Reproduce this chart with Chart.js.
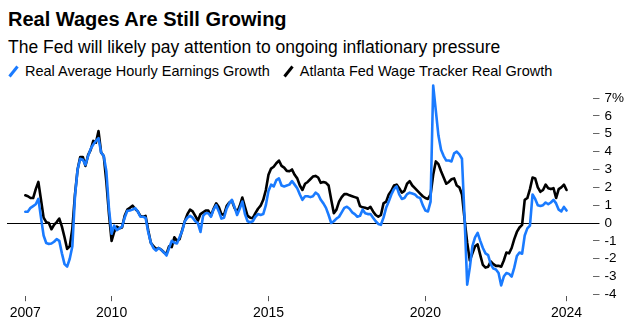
<!DOCTYPE html>
<html>
<head>
<meta charset="utf-8">
<script src="https://cdn.jsdelivr.net/npm/chart.js@4.4.1/dist/chart.umd.min.js"></script>
<style>
  body { margin: 0; width: 643px; height: 327px; background: #fff; position: relative; overflow: hidden;
         font-family: "Liberation Sans", Arial, sans-serif; color: #000; }
  #title { position: absolute; left: 8px; top: 8px; font-size: 20px; font-weight: bold; white-space: nowrap; }
  #subtitle { position: absolute; left: 8px; top: 37px; font-size: 17.5px; white-space: nowrap; }
  #legend { position: absolute; left: 8px; top: 63px; font-size: 14.5px; white-space: nowrap; display: flex; align-items: center; }
  #legend svg { margin-right: 6px; }
  #legend span.item { display: flex; align-items: center; margin-right: 13px; }
  #chart { position: absolute; left: 0; top: 0; }
</style>
</head>
<body>
<div id="title">Real Wages Are Still Growing</div>
<div id="subtitle">The Fed will likely pay attention to ongoing inflationary pressure</div>
<div id="legend">
  <span class="item"><svg width="11" height="13"><line x1="1.5" y1="11.5" x2="9.5" y2="1.5" stroke="#1a7bff" stroke-width="3"/></svg>Real Average Hourly Earnings Growth</span>
  <span class="item"><svg width="11" height="13"><line x1="1.5" y1="11.5" x2="9.5" y2="1.5" stroke="#000" stroke-width="3"/></svg>Atlanta Fed Wage Tracker Real Growth</span>
</div>
<canvas id="chart" width="643" height="327"></canvas>
<script>
// --- DATA: monthly readings, first value is April 2007 ---
const seriesNames = ['Real Average Hourly Earnings Growth', 'Atlanta Fed Wage Tracker Real Growth'];

const earningsGrowth = [
  0.63, 0.64, 0.85, 0.95, 1.05, 1.35, 0.3, -0.7, -1.12,             // 2007
  -1.17, -1.15, -1.05, -0.9, -1.0, -1.7, -2.3, -2.44, -2.0, -1.3, 1.5, 3.0,   // 2008
  3.6, 3.55, 3.25, 3.75, 4.15, 4.4, 4.6, 4.75, 3.95, 3.75, 2.9, 0.8,  // 2009
  -0.6, -0.15, -0.4, -0.3, -0.2, 0.3, 0.68, 0.7, 0.75, 0.84, 0.65, 0.35, // 2010
  0.35, 0.3, -0.5, -1.1, -1.4, -1.55, -1.4, -1.5, -1.65, -1.82, -1.4, -1.0, // 2011
  -1.1, -1.15, -0.8, -0.45, 0.1, 0.3, 0.4, 0.3, 0.1, 0.0, -0.5, 0.4,  // 2012
  0.55, 0.55, 0.35, 0.75, 1.0, 0.65, 0.25, 0.3, 0.8, 1.1, 1.3, 0.9,   // 2013
  0.45, 0.8, 1.2, 0.5, 0.1, 0.04, 0.1, 0.35, 0.5, 0.45, 0.5, 1.0,     // 2014
  1.8, 2.15, 2.05, 2.4, 2.5, 2.1, 2.05, 2.1, 2.15, 2.35, 2.15, 1.95,  // 2015
  1.6, 1.3, 1.5, 1.5, 1.45, 1.5, 1.7, 1.6, 1.3, 1.1, 0.85, 0.45,      // 2016
  0.0, 0.1, 0.25, 0.35, 0.6, 0.85, 0.91, 0.8, 0.6, 0.5, 0.35, 0.4,    // 2017
  0.75, 0.55, 0.5, 0.5, 0.3, 0.1, -0.05, -0.1, 0.3, 0.85, 1.2, 1.6,   // 2018
  1.9, 2.05, 1.6, 1.35, 1.4, 1.62, 1.7, 1.65, 1.6, 1.45, 1.4, 1.0,    // 2019
  0.7, 0.65, 1.2, 7.7, 6.3, 4.9, 4.1, 3.75, 3.5, 3.5, 3.45, 3.9,      // 2020
  4.0, 3.85, 3.6, 0.3, -3.45, -2.5, -1.3, -0.8, -0.55, -1.0, -1.4, -1.7, // 2021
  -1.8, -2.3, -2.55, -2.6, -2.8, -3.5, -3.0, -2.8, -2.85, -3.0, -2.5, -1.85, // 2022
  -1.65, -1.72, -0.7, -0.3, -0.15, 1.6, 1.35, 1.0, 0.95, 1.0, 1.15, 1.05, // 2023
  1.15, 1.3, 1.1, 0.75, 0.65, 0.9, 0.7                                // 2024
];

const wageTrackerGrowth = [
  1.55, 1.5, 1.4, 1.4, 1.9, 2.3, 1.3, 0.3, 0.05,
  0.0, -0.35, -0.1, 0.05, 0.25, -0.2, -0.8, -1.45, -1.3, -0.3, 1.6, 3.0,
  3.7, 3.7, 3.2, 3.8, 4.1, 4.6, 4.5, 5.15, 3.95, 3.75, 2.3, 0.5,
  -1.0, -0.5, -0.2, -0.3, -0.25, 0.4, 0.75, 0.85, 0.97, 0.8, 0.65, 0.4,
  0.35, 0.4, -0.4, -1.1, -1.3, -1.45, -1.4, -1.5, -1.64, -1.73, -1.3, -1.35,
  -0.8, -1.0, -0.9, -0.4, 0.1, 0.5, 0.75, 0.65, 0.4, 0.13, 0.5, 0.6,
  0.7, 0.7, 0.4, 0.8, 1.1, 0.9, 0.5, 0.45, 0.95, 1.15, 1.25, 0.85,
  0.6, 0.95, 1.43, 0.9, 0.4, 0.3, 0.27, 0.55, 0.8, 0.97, 1.3, 1.85,
  2.7, 3.05, 3.15, 3.35, 3.5, 3.2, 3.1, 2.92, 2.9, 3.0, 2.7, 2.5,
  2.1, 1.85, 2.2, 2.3, 2.45, 2.6, 2.64, 2.55, 2.25, 2.3, 2.25, 2.1,
  1.3, 0.55, 0.75, 1.2, 1.45, 1.62, 1.62, 1.55, 1.5, 1.45, 1.4, 0.95,
  0.88, 0.85, 0.8, 0.91, 0.65, 0.45, 0.35, 0.45, 1.1, 1.2, 1.6, 1.8,
  2.1, 2.15, 1.95, 1.7, 1.8, 2.2, 2.35, 2.1, 1.95, 1.8, 1.65, 1.5,
  1.4, 1.35, 1.6, 2.7, 3.45, 3.3, 2.9, 2.55, 2.2, 2.3, 2.45, 2.5,
  2.1, 2.0, 1.6, 0.2, -1.1, -2.1, -1.7, -1.3, -1.2, -1.8, -2.35, -2.5,
  -2.45, -2.15, -2.3, -2.4, -2.4, -2.45, -2.1, -1.65, -1.7, -1.4, -0.9, -0.5,
  -0.25, -0.1, 1.3, 1.4, 1.9, 2.55, 2.5, 2.0, 1.75, 1.85, 2.15, 1.95,
  1.9, 1.95, 1.4, 1.9, 2.0, 2.15, 1.85
];

// x positions are month offsets from April 2007
const yearTickMonths = [0, 33, 93, 153, 207];
const yearTickLabels = ['2007', '2010', '2015', '2020', '2024'];
const valueTicks = [-4, -3, -2, -1, 0, 1, 2, 3, 4, 5, 6, 7];

function toPoints(values) {
  return values.map((v, i) => ({ x: i, y: v }));
}

const ctx = document.getElementById('chart').getContext('2d');

new Chart(ctx, {
  type: 'line',
  data: {
    datasets: [
      {
        label: seriesNames[0],
        data: toPoints(earningsGrowth),
        borderColor: '#1a7bff',
        borderWidth: 2.6
      },
      {
        label: seriesNames[1],
        data: toPoints(wageTrackerGrowth),
        borderColor: '#000000',
        borderWidth: 2.6
      }
    ]
  },
  options: {
    responsive: false,
    animation: false,
    devicePixelRatio: 1,
    layout: { padding: { left: 7, right: 14, top: 82, bottom: 1 } },
    elements: {
      point: { radius: 0 },
      line: { tension: 0, borderJoinStyle: 'round', borderCapStyle: 'round' }
    },
    plugins: {
      legend: { display: false },
      tooltip: { enabled: false }
    },
    scales: {
      x: {
        type: 'linear',
        min: -7,
        max: 217.3,
        border: { display: false },
        grid: { drawOnChartArea: false, drawTicks: true, tickLength: 5, color: '#555' },
        afterBuildTicks: (axis) => {
          axis.ticks = yearTickMonths.map((m) => ({ value: m }));
        },
        ticks: {
          autoSkip: false,
          maxRotation: 0,
          padding: 4,
          color: '#000',
          font: { family: '"Liberation Sans", Arial, sans-serif', size: 14 },
          callback: (value) => yearTickLabels[yearTickMonths.indexOf(value)]
        }
      },
      y: {
        position: 'right',
        min: -4.1,
        max: 7.9,
        border: { display: false },
        grid: {
          drawTicks: true,
          tickLength: 6,
          color: (c) => (c.tick && c.tick.value === 0 ? '#000' : 'rgba(0,0,0,0)'),
          tickColor: (c) => (c.tick && c.tick.value === 0 ? '#000' : '#666')
        },
        afterBuildTicks: (axis) => {
          axis.ticks = valueTicks.map((v) => ({ value: v }));
        },
        ticks: {
          padding: 5,
          color: '#000',
          font: { family: '"Liberation Sans", Arial, sans-serif', size: 13.5 },
          callback: (value) => (value === 7 ? '7%' : String(value))
        }
      }
    }
  }
});
</script>
</body>
</html>
